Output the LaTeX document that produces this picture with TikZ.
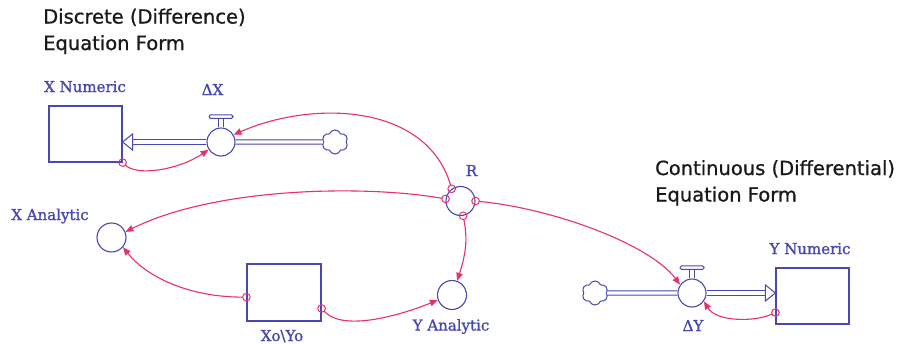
\documentclass[tikz,border=0pt]{standalone}
\usepackage{fontspec}
\usetikzlibrary{arrows.meta,shapes.symbols,calc}
\newfontfamily\titlefont[FakeBold=0.8]{DejaVu Sans}
\newfontfamily\namefont[FakeBold=1.3]{DejaVu Serif}
\definecolor{sdblue}{RGB}{72,72,176}
\definecolor{sdpink}{RGB}{232,48,108}
\definecolor{sdtext}{RGB}{25,25,25}

\begin{document}
\begin{tikzpicture}[x=1pt,y=-1pt,
  stock/.style={draw=sdblue, line width=1.2pt, minimum width=73pt, minimum height=56pt, inner sep=0},
  valve/.style={circle, draw=sdblue, line width=1.1pt, minimum size=28pt, inner sep=0},
  aux/.style={circle, draw=sdblue, line width=1.1pt, minimum size=29pt, inner sep=0},
  source/.style={cloud, cloud puffs=6, cloud puff arc=140, aspect=1, draw=sdblue, line width=1pt, minimum width=26pt, minimum height=24pt, inner sep=0},
  pipe/.style={draw=sdblue, line width=1pt, double=white, double distance=3.2pt},
  link/.style={draw=sdpink, line width=1.1pt, shorten <=3.8pt, -{Triangle[length=8pt,width=6.5pt]}},
  tap/.style={draw=sdpink, line width=1pt},
  varlabel/.style={text=sdblue, font=\namefont\fontsize{15}{18}\selectfont, inner sep=0, anchor=base},
  heading/.style={text=sdtext, font=\titlefont\fontsize{19.5}{26.5}\selectfont, align=left, inner sep=0, anchor=north west}
]
\useasboundingbox (0,0) rectangle (905,343);

% titles
\node[heading] (t1) at (43,8.5) {Discrete (Difference)\\Equation Form};
\node[heading] (t2) at (655,160) {Continuous (Differential)\\Equation Form};

% stocks, valves, auxiliaries, sources
\node[stock] (XN) at (85.5,134) {};
\node[valve] (dX) at (221,142) {};
\node[source] (cX) at (335,142) {};
\node[aux] (R) at (460.5,201) {};
\node[aux] (XA) at (111.5,237.5) {};
\node[stock, minimum width=74pt, minimum height=57pt] (X0) at (284,292.5) {};
\node[aux] (YA) at (452,295) {};
\node[valve] (dY) at (692,293) {};
\node[source] (cY) at (595,293) {};
\node[stock] (YN) at (812.5,296) {};

% names
\node[varlabel] (XNl) at (85,92) {X Numeric};
\node[varlabel] (dXl) at (212.5,95) {ΔX};
\node[varlabel] (Rl) at (471.5,176) {R};
\node[varlabel] (XAl) at (50,220) {X Analytic};
\node[varlabel] (X0l) at (282,341) {Xo\textbackslash Yo};
\node[varlabel] (YAl) at (451,330.5) {Y Analytic};
\node[varlabel] (dYl) at (693,331) {ΔY};
\node[varlabel] (YNl) at (810,254) {Y Numeric};

% flow pipes
\draw[pipe] (cX.west) -- (dX.east);
\draw[pipe] (dX.west) -- ($(XN.east |- dX.center)+(10,0)$);
\draw[sdblue, line width=1pt, fill=white] (XN.east |- dX.center) -- ++(10,-8) -- ++(0,16) -- cycle;
\draw[pipe] (cY.east) -- (dY.west);
\draw[pipe] (dY.east) -- ($(YN.west |- dY.center)+(-10,0)$);
\draw[sdblue, line width=1pt, fill=white] (YN.west |- dY.center) -- ++(-10,-8) -- ++(0,16) -- cycle;

% valve handles
\foreach \v in {dX,dY}{
  \draw[sdblue, line width=1pt] ([xshift=-2.5pt]\v.north) -- ++(0,-9) ([xshift=2.5pt]\v.north) -- ++(0,-9);
  \draw[sdblue, line width=1pt, fill=white, rounded corners=1.5pt]
    ($(\v.north)+(-12,-12.5)$) rectangle ($(\v.north)+(12,-9)$);
}

% information links
\draw[link] (XN.south east) .. controls +(15,14) and +(-30,20) .. (dX.212);
\draw[link] (R.126) .. controls +(-25,-85) and +(80,-35) .. (dX.30);
\draw[link] (R.172) .. controls +(-80,-14) and +(90,-45) .. (XA.22);
\draw[link] (X0.187) .. controls +(-60,0) and +(22,28) .. (XA.-40);
\draw[link] (X0.-23) .. controls +(20,22) and +(-45,18) .. (YA.200);
\draw[link] (R.-80) .. controls +(5,25) and +(8,-25) .. (YA.70);
\draw[link] (R.0) .. controls +(80,8) and +(-30,-40) .. (dY.145);
\draw[link] (YN.204) .. controls +(-22,10) and +(12,20) .. (dY.-35);

% link origins
\foreach \p in {XN.south east, R.126, R.172, R.0, R.-80, X0.187, X0.-23, YN.204}
  \draw[tap] (\p) circle[radius=3.8pt];
\end{tikzpicture}
\end{document}
